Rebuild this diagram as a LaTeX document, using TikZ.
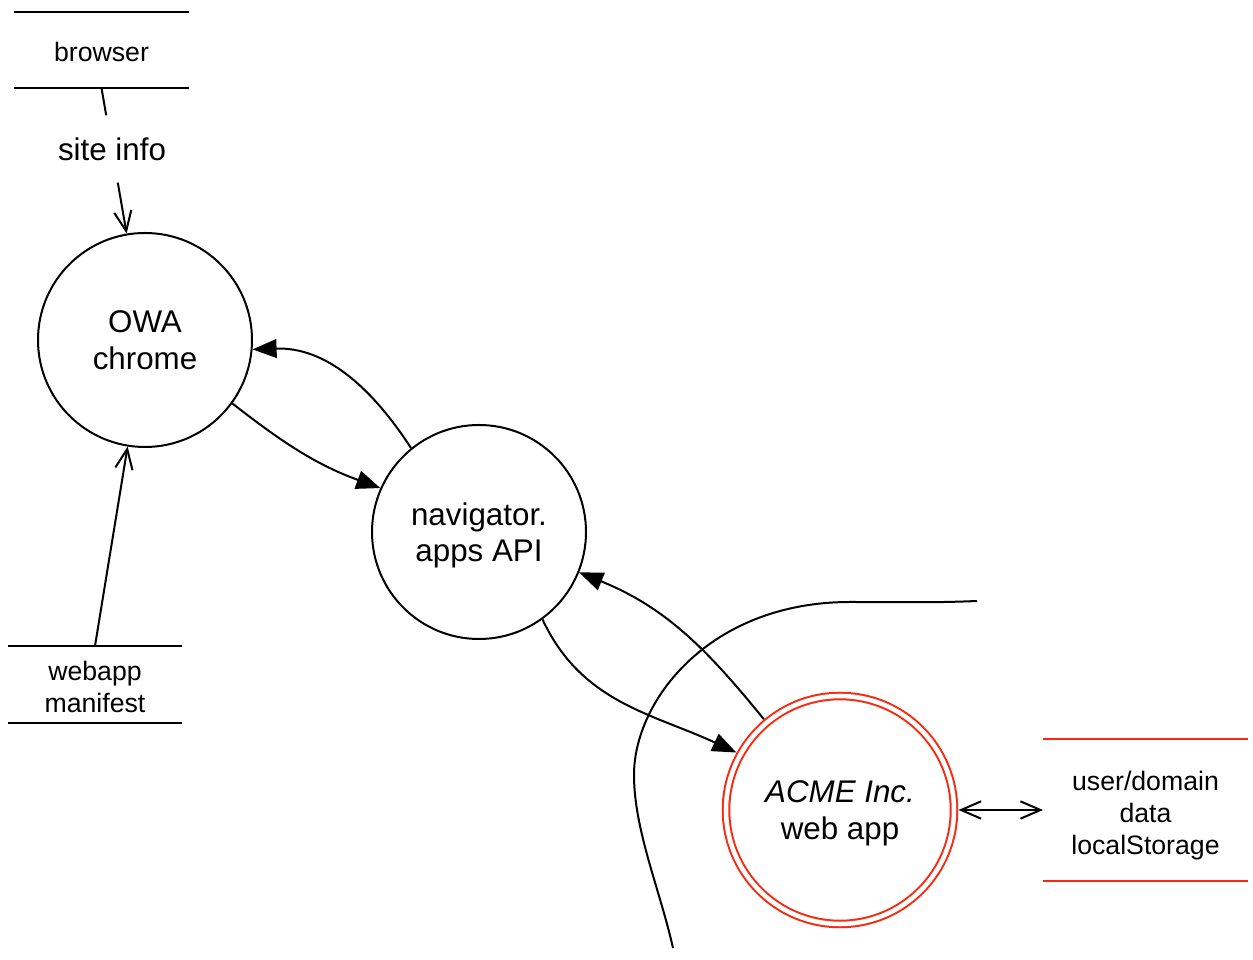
\documentclass[tikz,border=0pt]{standalone}
\usepackage{fontspec}
\setmainfont{Liberation Sans}
\usetikzlibrary{positioning}
\usetikzlibrary{arrows.meta}
\definecolor{acmered}{RGB}{250,40,15}

\begin{document}
\begin{tikzpicture}[x=0.75pt,y=0.75pt,line width=1.5pt]
\tikzset{process/.style={circle,draw,minimum size=160.5pt,inner sep=0pt,align=center,text depth=0pt,font=\fontsize{23.5}{27.5}\selectfont}}
\tikzset{trusted/.style={process,draw=acmered,double=white,double distance=3.4pt,minimum size=171pt,outer sep=3.4pt}}
\tikzset{store/.style={rectangle,inner sep=0pt,outer sep=0pt,align=center,text depth=0pt,font=\fontsize{20}{24}\selectfont}}
\tikzset{storeline/.style={line width=1.8pt}}
\tikzset{flowlabel/.style={inner xsep=2pt,inner ysep=16pt,text height=17pt,text depth=0pt,font=\fontsize{23.5}{27.5}\selectfont}}
\tikzset{flow/.style={-{Triangle[length=18pt,width=14pt]}}}
\tikzset{feed/.style={-{Straight Barb[length=15pt,width=13pt]}}}
\useasboundingbox (0,0) rectangle (1253,960);
\node[store,minimum width=131.25pt,minimum height=57pt,text height=17.6pt] (browser) at (101.5,910) {browser};
\node[flowlabel] (siteinfo) at (112,811) {site info};
\node[process] (owa) at (145,620) {OWA\\chrome};
\node[process] (nav) at (479,428) {navigator.\\apps API};
\node[trusted] (acme) at (840,150) {\textit{ACME Inc.}\\web app};
\node[store,minimum width=153.75pt,minimum height=106.5pt,text height=67pt] (storage) at (1145.5,150) {user/domain\\data\\localStorage};
\node[store,minimum width=130.5pt,minimum height=57.75pt,text height=41.6pt] (manifest) at (95,275.5) {webapp\\manifest};
\draw[storeline] (browser.north west) -- (browser.north east) (browser.south west) -- (browser.south east);
\draw[storeline] (manifest.north west) -- (manifest.north east) (manifest.south west) -- (manifest.south east);
\draw[storeline,acmered] (storage.north west) -- (storage.north east) (storage.south west) -- (storage.south east);
\draw (browser.south) -- (siteinfo);
\draw[feed] (siteinfo) -- (owa);
\draw[feed] (manifest.north) -- (owa);
\draw[flow] (owa.-36) to[out=-38,in=160] (nav.156);
\draw[flow] (nav.129) to[out=123,in=2] (owa.-5);
\draw[flow] (acme.130) to[out=129,in=-22] (nav.-22);
\draw[flow] (nav.-54) to[out=-65,in=155] (acme.151);
\draw[{Straight Barb[length=15pt,width=13pt]}-{Straight Barb[length=15pt,width=13pt]}] (acme) -- (storage);
\draw (977,359) .. controls (930,357) and (900,358) .. (850,358) .. controls (710,358) and (634,260) .. (634,185) .. controls (634,130) and (660,70) .. (673,12);
\end{tikzpicture}
\end{document}
